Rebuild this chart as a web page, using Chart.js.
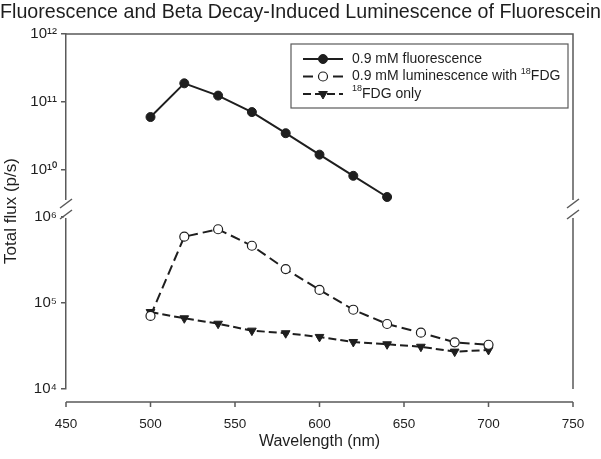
<!DOCTYPE html>
<html lang="en">
<head>
<meta charset="UTF-8">
<title>Fluorescence and Beta Decay-Induced Luminescence of Fluorescein</title>
<script src="https://cdn.jsdelivr.net/npm/chart.js"></script>
<style>
  html, body { margin: 0; padding: 0; background: #fff; }
  #wrap { width: 601px; height: 459px; }
</style>
</head>
<body>
<div id="wrap"><canvas id="myChart"></canvas></div>
<script>
// values
var wavelengths = [500, 520, 540, 560, 580, 600, 620, 640, 660, 680, 700];
var fluorescence = [6.0e10, 1.88e11, 1.24e11, 7.1e10, 3.47e10, 1.68e10, 8.2e9, 4.0e9];
var luminescence = [7.07e4, 5.9e5, 7.2e5, 4.63e5, 2.48e5, 1.42e5, 8.35e4, 5.7e4, 4.52e4, 3.49e4, 3.27e4];
var fdgOnly = [7.85e4, 6.64e4, 5.74e4, 4.77e4, 4.45e4, 4.03e4, 3.52e4, 3.31e4, 3.1e4, 2.72e4, 2.84e4];
var xTicks = [450, 500, 550, 600, 650, 700, 750];
var upperTicks = [1e10, 1e11, 1e12];
var lowerTicks = [1e4, 1e5, 1e6];
// legend texts, "^" marks the superscript part
var legendNames = ['0.9 mM fluorescence', '0.9 mM luminescence with ^18^FDG', '^18^FDG only'];

var ink = '#1e1e1e';
var axisGrey = '#5a5a5a';
var FONT = "'Liberation Sans', Arial, sans-serif";

function pairs(vals) {
    return vals.map(function (v, i) { return { x: wavelengths[i], y: v }; });
}

var SUP = { '0': '\u2070', '1': '\u00b9', '2': '\u00b2', '3': '\u00b3', '4': '\u2074',
            '5': '\u2075', '6': '\u2076', '7': '\u2077', '8': '\u2078', '9': '\u2079' };
function powerLabel(v) {
    var e = String(Math.round(Math.log10(v)));
    return '10' + e.split('').map(function (c) { return SUP[c]; }).join('');
}

function fixedTicks(list) {
    return function (scale) {
        scale.ticks = list.map(function (v) { return { value: v }; });
    };
}

function yAxis(weight, min, max, list) {
    return {
        type: 'logarithmic',
        position: 'left',
        stack: 'flux',
        stackWeight: weight,
        min: min,
        max: max,
        afterBuildTicks: fixedTicks(list),
        afterFit: function (s) { s.width = 66; },
        ticks: {
            autoSkip: false,
            padding: 4,
            color: ink,
            font: { family: FONT, size: 15 },
            callback: function (v) { return powerLabel(v); }
        },
        grid: { drawOnChartArea: false, tickLength: 5, color: axisGrey, lineWidth: 1.5 },
        border: { color: axisGrey, width: 1.5 }
    };
}

// frame, axis break, offset x axis, y title and legend
var decorations = {
    id: 'decorations',
    afterDraw: function (chart) {
        var ctx = chart.ctx;
        var a = chart.chartArea;
        var xs = chart.scales.x;
        var brk = chart.scales.yTop.bottom;
        ctx.save();
        ctx.strokeStyle = axisGrey;
        ctx.lineWidth = 1.5;

        // top and right frame
        ctx.beginPath();
        ctx.moveTo(a.left, a.top);
        ctx.lineTo(a.right, a.top);
        ctx.lineTo(a.right, a.bottom);
        ctx.stroke();

        // axis breaks
        [a.left, a.right].forEach(function (x) {
            ctx.fillStyle = '#fff';
            ctx.fillRect(x - 2, brk - 9, 4, 18);
            [-5.5, 5.5].forEach(function (dy) {
                ctx.beginPath();
                ctx.moveTo(x - 6, brk + dy + 4.5);
                ctx.lineTo(x + 6, brk + dy - 4.5);
                ctx.stroke();
            });
        });

        // x axis drawn below the plot
        var ay = a.bottom + 13;
        ctx.beginPath();
        ctx.moveTo(xs.getPixelForValue(xTicks[0]), ay);
        ctx.lineTo(xs.getPixelForValue(xTicks[xTicks.length - 1]), ay);
        xs.ticks.forEach(function (t) {
            var px = xs.getPixelForValue(t.value);
            ctx.moveTo(px, ay);
            ctx.lineTo(px, ay + 5);
        });
        ctx.stroke();

        // y title
        ctx.fillStyle = ink;
        ctx.font = '17px ' + FONT;
        ctx.textAlign = 'center';
        ctx.textBaseline = 'middle';
        ctx.translate(11, 211);
        ctx.rotate(-Math.PI / 2);
        ctx.fillText('Total flux (p/s)', 0, 0);
        ctx.restore();

        // legend
        ctx.save();
        var bx = 291, by = 44, bw = 277, bh = 64;
        ctx.strokeStyle = axisGrey;
        ctx.lineWidth = 1.2;
        ctx.strokeRect(bx, by, bw, bh);
        chart.data.datasets.forEach(function (ds, i) {
            var ry = by + 15 + i * 17.5;
            ctx.strokeStyle = ink;
            ctx.lineWidth = 2;
            ctx.setLineDash(ds.borderDash || []);
            ctx.beginPath();
            ctx.moveTo(bx + 12, ry);
            ctx.lineTo(bx + 52, ry);
            ctx.stroke();
            ctx.setLineDash([]);
            ctx.fillStyle = ds.pointBackgroundColor;
            ctx.lineWidth = ds.pointBorderWidth;
            Chart.helpers.drawPoint(ctx, {
                pointStyle: ds.pointStyle, rotation: ds.pointRotation || 0,
                radius: ds.pointRadius, borderWidth: ds.pointBorderWidth
            }, bx + 32, ry);

            var parts = legendNames[i].split('^');
            var tx = bx + 61;
            ctx.fillStyle = ink;
            ctx.textAlign = 'left';
            ctx.textBaseline = 'middle';
            parts.forEach(function (p, k) {
                if (!p) return;
                if (k % 2 === 1) {
                    ctx.font = '9px ' + FONT;
                    ctx.fillText(p, tx, ry - 5);
                } else {
                    ctx.font = '14px ' + FONT;
                    ctx.fillText(p, tx, ry);
                }
                tx += ctx.measureText(p).width;
            });
        });
        ctx.restore();
    }
};

new Chart(document.getElementById('myChart'), {
    type: 'line',
    data: {
        datasets: [
            {
                label: '0.9 mM fluorescence',
                data: pairs(fluorescence),
                yAxisID: 'yTop',
                borderColor: ink,
                borderWidth: 2,
                pointStyle: 'circle',
                pointRadius: 4.5,
                pointBorderWidth: 1,
                pointBorderColor: ink,
                pointBackgroundColor: ink
            },
            {
                label: '0.9 mM luminescence with 18FDG',
                data: pairs(luminescence),
                yAxisID: 'yLow',
                borderColor: ink,
                borderWidth: 2,
                borderDash: [10, 5],
                pointStyle: 'circle',
                pointRadius: 4.5,
                pointBorderWidth: 1.2,
                pointBorderColor: ink,
                pointBackgroundColor: '#fff'
            },
            {
                label: '18FDG only',
                data: pairs(fdgOnly),
                yAxisID: 'yLow',
                borderColor: ink,
                borderWidth: 2,
                borderDash: [8, 4],
                pointStyle: 'triangle',
                pointRotation: 180,
                pointRadius: 5,
                pointBorderWidth: 1,
                pointBorderColor: ink,
                pointBackgroundColor: ink
            }
        ]
    },
    options: {
        responsive: true,
        maintainAspectRatio: false,
        animation: false,
        layout: { padding: 0 },
        plugins: {
            legend: { display: false },
            tooltip: { enabled: false },
            title: {
                display: true,
                text: 'Fluorescence and Beta Decay-Induced Luminescence of Fluorescein',
                color: ink,
                font: { family: FONT, size: 20.3, weight: 'normal' },
                padding: { top: 0, bottom: 9.6 }
            }
        },
        scales: {
            x: {
                type: 'linear',
                min: 450,
                max: 750,
                afterBuildTicks: fixedTicks(xTicks),
                afterFit: function (s) { s.height = 70; },
                grid: { drawOnChartArea: false, color: 'transparent', tickLength: 18 },
                border: { display: false },
                ticks: { autoSkip: false, maxRotation: 0, padding: 9, color: ink,
                         font: { family: FONT, size: 13.5 } },
                title: { display: true, text: 'Wavelength (nm)', color: ink,
                         font: { family: FONT, size: 16 }, padding: { top: 0, bottom: 8 } }
            },
            yLow: yAxis(180, 1e4, Math.pow(10, 6.093), lowerTicks),
            yTop: yAxis(175, Math.pow(10, 9.426), 1e12, upperTicks),
            // empty right strip that keeps the plot off the right edge
            gutter: {
                type: 'linear',
                position: 'right',
                afterFit: function (s) { s.width = 28; },
                ticks: { display: false },
                grid: { display: false },
                border: { display: false }
            }
        }
    },
    plugins: [decorations]
});
</script>
</body>
</html>
